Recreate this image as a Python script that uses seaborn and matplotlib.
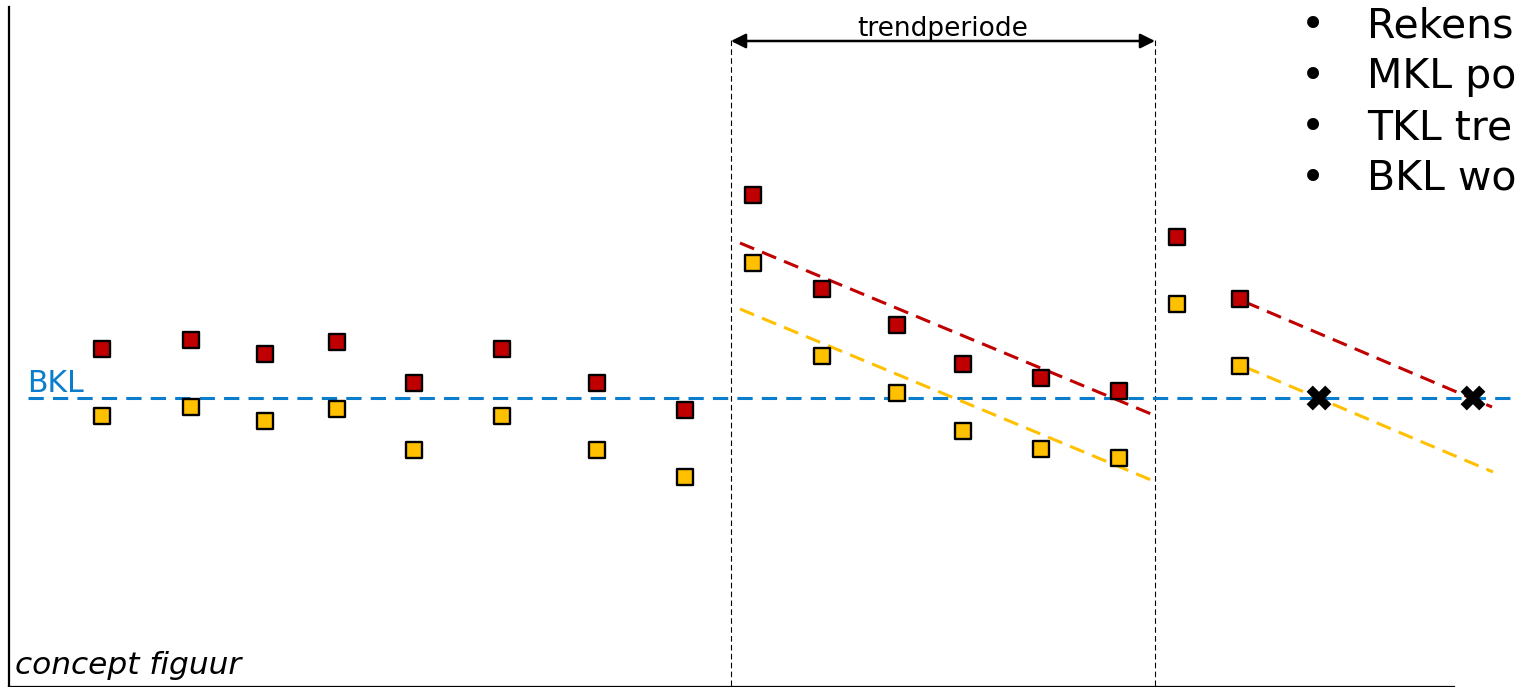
"""
Concept figure: measurements vs BKL with a trend period.
"""

import numpy as np
import pandas as pd
import matplotlib.pyplot as plt
import seaborn as sns

# ── data (x = tijd, y = waarde t.o.v. BKL) ─────────────────────────────────
T_POINTS = [10.2, 19.1, 26.5, 33.7, 41.4, 50.2, 59.7, 68.5,
            75.3, 82.2, 89.7, 96.3, 104.1, 111.9, 117.7, 124.0]
RED_VALUES = [4.9, 5.8, 4.4, 5.6, 1.5, 4.9, 1.5, -1.2,
              20.3, 10.9, 7.3, 3.4, 2.0, 0.7, 16.1, 9.9]
YELLOW_VALUES = [-1.8, -0.9, -2.3, -1.1, -5.2, -1.8, -5.2, -7.9,
                 13.5, 4.2, 0.5, -3.3, -5.1, -6.0, 9.4, 3.2]

BKL = 0.0
TREND_START, TREND_END = 73.1, 115.5

RED_TREND_T = [74.0, 115.6]
RED_TREND_Y = [15.5, -1.8]
YELLOW_TREND_T = [74.0, 115.6]
YELLOW_TREND_Y = [8.9, -8.4]
RED_TREND2_T = [124.5, 149.2]
RED_TREND2_Y = [9.6, -0.9]
YELLOW_TREND2_T = [124.5, 149.3]
YELLOW_TREND2_Y = [3.1, -7.4]

CROSS_T = [131.9, 147.3]
CROSS_Y = [0.0, 0.0]

BULLETS = ["Rekens", "MKL po", "TKL tre", "BKL wo"]

RED = "#C00000"
YELLOW = "#FFC000"
BLUE = "#0B7DCD"

df = pd.DataFrame({
    "t": T_POINTS * 2,
    "waarde": RED_VALUES + YELLOW_VALUES,
    "reeks": ["rood"] * len(RED_VALUES) + ["geel"] * len(YELLOW_VALUES),
})

sns.set_style("white")
plt.rcParams["text.color"] = "black"

fig = plt.figure(figsize=(15.18, 6.87), dpi=100)
ax = fig.add_axes([0, 0, 1, 1])
ax.set_xlim(0, 151.8)
ax.set_ylim(-28.9, 39.8)
ax.set_xticks([])
ax.set_yticks([])

for side in ["top", "right"]:
    ax.spines[side].set_visible(False)
ax.spines["left"].set_position(("data", 0.85))
ax.spines["left"].set_bounds(-28.85, 39.1)
ax.spines["bottom"].set_position(("data", -28.85))
ax.spines["bottom"].set_bounds(0.85, 145.4)
for side in ["left", "bottom"]:
    ax.spines[side].set_linewidth(1.6)
    ax.spines[side].set_color("black")

# BKL line
ax.plot([2.8, 151.8], [BKL, BKL], color=BLUE, lw=2.2, ls=(0, (5, 3)), zorder=2)
ax.text(2.7, 0.6, "BKL", color=BLUE, fontsize=21.5, va="baseline", ha="left")

# trend period
for xv in [TREND_START, TREND_END]:
    ax.plot([xv, xv], [35.8, -28.9], color="black", lw=0.8, ls=(0, (5, 3)), zorder=1)
ax.annotate("", xy=(TREND_START, 35.7), xytext=(TREND_END, 35.7),
            arrowprops=dict(arrowstyle="<|-|>", color="black", lw=1.8,
                            mutation_scale=22, shrinkA=0, shrinkB=0))
ax.text((TREND_START + TREND_END) / 2, 36.2, "trendperiode",
        fontsize=19, ha="center", va="baseline")

# trend lines
dash = (0, (5, 2.8))
ax.plot(RED_TREND_T, RED_TREND_Y, color=RED, lw=2.2, ls=dash, zorder=2)
ax.plot(YELLOW_TREND_T, YELLOW_TREND_Y, color=YELLOW, lw=2.2, ls=dash, zorder=2)
ax.plot(RED_TREND2_T, RED_TREND2_Y, color=RED, lw=2.2, ls=dash, zorder=2)
ax.plot(YELLOW_TREND2_T, YELLOW_TREND2_Y, color=YELLOW, lw=2.2, ls=dash, zorder=2)

# measurements
sns.scatterplot(data=df, x="t", y="waarde", hue="reeks",
                palette={"rood": RED, "geel": YELLOW}, marker="s", s=135,
                edgecolor="black", linewidth=1.7, legend=False, ax=ax, zorder=3)

ax.scatter(CROSS_T, CROSS_Y, marker="X", s=320, color="black",
           edgecolor="none", zorder=4)

ax.set_xlabel("")
ax.set_ylabel("")

# bullets (cut off at the right edge, as in the slide)
for i, line in enumerate(BULLETS):
    yb = 36.1 - i * 5.1
    ax.text(131.3, yb, "\u2022", fontsize=29.5, ha="center", va="baseline")
    ax.text(136.7, yb, line, fontsize=29.5, ha="left", va="baseline")

ax.text(1.5, -27.6, "concept figuur", fontsize=22.5, style="italic",
        ha="left", va="baseline")

fig.savefig("out.png", dpi=100)
